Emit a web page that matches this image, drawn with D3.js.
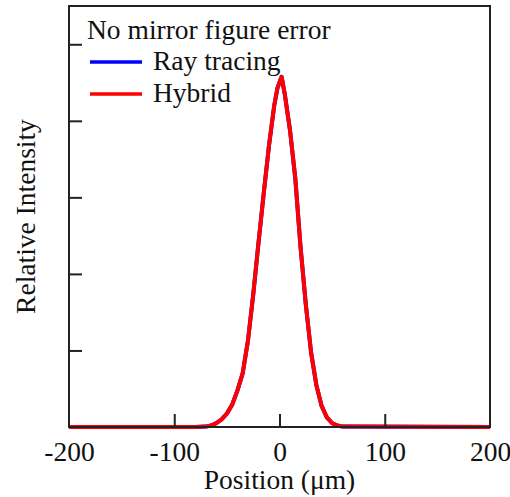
<!DOCTYPE html>
<html>
<head>
<meta charset="utf-8">
<script src="https://cdn.jsdelivr.net/npm/d3@7"></script>
<style>
  body { margin: 0; background: #fff; }
  text { font-family: "Liberation Serif", "Times New Roman", serif; fill: #111; }
</style>
</head>
<body>
<div id="chart"></div>
<script>
// positions in µm, intensities relative
var positions = [-200, -80, -70, -65, -60, -55, -50, -45, -40, -35, -30, -25, -20, -15, -10, -5, -2, 2, 5, 10, 15, 20, 25, 30, 35, 40, 45, 50, 55, 60, 200];
var hybrid    = [0, 0, 0.001, 0.004, 0.010, 0.020, 0.035, 0.058, 0.095, 0.140, 0.225, 0.345, 0.480, 0.610, 0.735, 0.840, 0.885, 0.915, 0.870, 0.775, 0.650, 0.470, 0.320, 0.195, 0.110, 0.055, 0.025, 0.010, 0.004, 0.001, 0];
var rayTracing = [0, 0, 0.001, 0.004, 0.010, 0.020, 0.035, 0.058, 0.095, 0.140, 0.225, 0.345, 0.480, 0.610, 0.735, 0.840, 0.885, 0.915, 0.870, 0.775, 0.650, 0.470, 0.320, 0.195, 0.110, 0.055, 0.025, 0.010, 0.004, 0.001, 0];
var xTicks = [-200, -100, 0, 100, 200];
var yTicks = [0.2, 0.4, 0.6, 0.8, 1.0];
var legendTitle = "No mirror figure error";
var seriesNames = ["Ray tracing", "Hybrid"];
var seriesColors = ["#0000ff", "#ff0000"];

var margin = {top: 6, right: 20, bottom: 70, left: 69};
var width = 510 - margin.left - margin.right,
    height = 497 - margin.top - margin.bottom;
var fs = 27.5;

var svg = d3.select("#chart").append("svg")
    .attr("width", 510)
    .attr("height", 497)
  .append("g")
    .attr("transform", "translate(" + margin.left + "," + margin.top + ")");

var x = d3.scaleLinear().domain([-200, 200]).range([0, width]);
var y = d3.scaleLinear().domain([0, 1.1]).range([height, 0]);

var line = d3.line()
    .x(function(d) { return x(d[0]); })
    .y(function(d) { return y(d[1]); });

[rayTracing, hybrid].forEach(function(vals, i) {
  svg.append("path")
      .datum(positions.map(function(p, j) { return [p, vals[j]]; }))
      .attr("d", line)
      .attr("fill", "none")
      .attr("stroke", seriesColors[i])
      .attr("stroke-width", 4)
      .attr("stroke-linejoin", "round");
});

// frame
svg.append("rect")
    .attr("width", width)
    .attr("height", height)
    .attr("fill", "none")
    .attr("stroke", "#222")
    .attr("stroke-width", 2);

// inward ticks
var xAxis = svg.append("g")
    .attr("transform", "translate(0," + height + ")")
    .call(d3.axisBottom(x).tickValues(xTicks).tickSize(-13).tickPadding(14)
      .tickFormat(function(d) { return String(d); }));
xAxis.select(".domain").remove();
xAxis.selectAll(".tick line").attr("stroke", "#222").attr("stroke-width", 2);
xAxis.selectAll(".tick text").attr("font-size", fs).attr("font-family", "Liberation Serif").attr("fill", "#111");
xAxis.selectAll(".tick").filter(function(d) { return d === -200 || d === 200; }).select("line").remove();

var yAxis = svg.append("g")
    .call(d3.axisLeft(y).tickValues(yTicks).tickSize(-13).tickFormat(""));
yAxis.select(".domain").remove();
yAxis.selectAll(".tick line").attr("stroke", "#222").attr("stroke-width", 2);

svg.append("text")
    .attr("x", width / 2)
    .attr("y", height + 62)
    .attr("text-anchor", "middle")
    .attr("font-size", fs)
    .text("Position (\u03bcm)");

svg.append("text")
    .attr("transform", "translate(-34," + (height / 2) + ")rotate(-90)")
    .attr("text-anchor", "middle")
    .attr("font-size", fs)
    .text("Relative Intensity");

// legend
svg.append("text")
    .attr("x", 18)
    .attr("y", 33)
    .attr("font-size", fs)
    .text(legendTitle);

seriesNames.forEach(function(name, i) {
  var ly = 56 + i * 32;
  svg.append("line")
      .attr("x1", 21).attr("x2", 73)
      .attr("y1", ly).attr("y2", ly)
      .attr("stroke", seriesColors[i])
      .attr("stroke-width", 3.5);
  svg.append("text")
      .attr("x", 84)
      .attr("y", ly + 8)
      .attr("font-size", fs)
      .text(name);
});
</script>
</body>
</html>
